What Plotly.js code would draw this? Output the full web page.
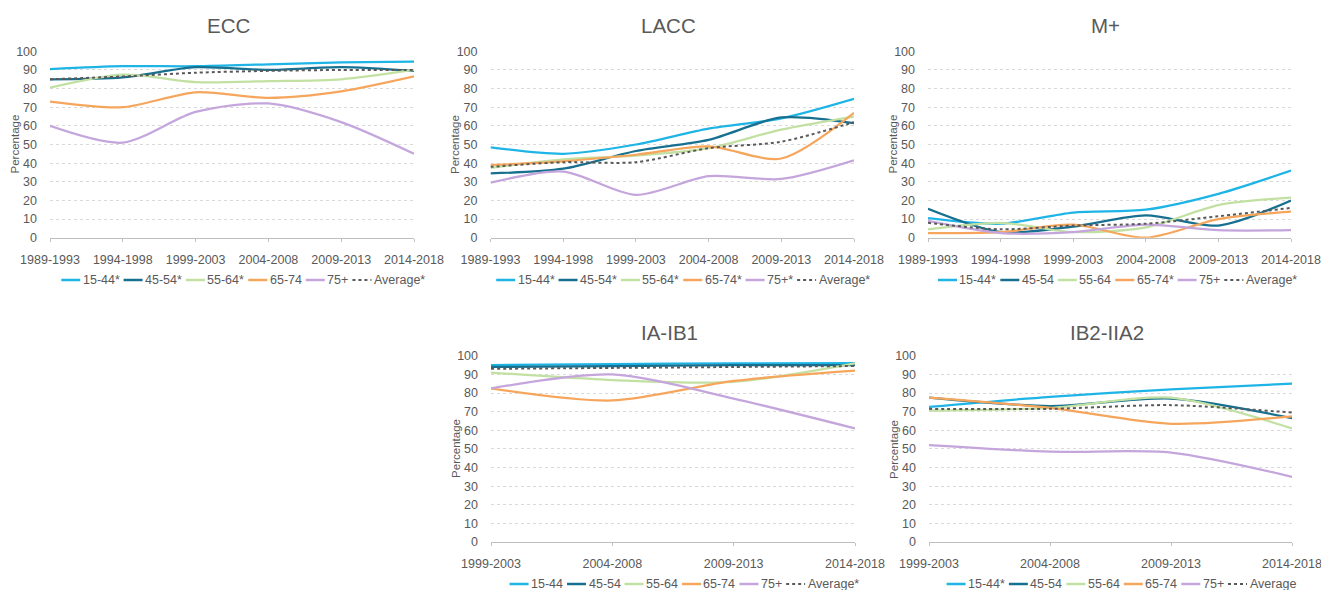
<!DOCTYPE html>
<html>
<head>
<meta charset="utf-8">
<script src="https://cdn.plot.ly/plotly-3.0.1.min.js"></script>
<style>html,body{margin:0;padding:0;background:#fff;}#chart{width:1321px;height:590px;}</style>
</head>
<body>
<div id="chart"></div>
<script>
// ---- data ----
const periodsLong = ["1989-1993", "1994-1998", "1999-2003", "2004-2008", "2009-2013", "2014-2018"];
const periodsShort = ["1999-2003", "2004-2008", "2009-2013", "2014-2018"];

// ECC
const eccNames = ["15-44*", "45-54*", "55-64*", "65-74", "75+", "Average*"];
const ecc1544 = [90.5, 92, 92, 93, 94, 94.5];
const ecc4554 = [85, 86, 91.5, 90, 91.5, 89.5];
const ecc5564 = [80.5, 87.5, 83.5, 84, 85, 90];
const ecc6574 = [73, 70, 78, 75, 78.5, 86.5];
const ecc75 = [60, 51, 67.5, 72, 62, 45];
const eccAvg = [85, 86.5, 88.5, 89.5, 90, 90];

// LACC
const laccNames = ["15-44*", "45-54*", "55-64*", "65-74*", "75+*", "Average*"];
const lacc1544 = [48.5, 45, 50, 58.5, 64, 74.5];
const lacc4554 = [34.5, 37, 46.5, 52.5, 64.5, 61.5];
const lacc5564 = [37.5, 42, 44, 48, 58, 65];
const lacc6574 = [39, 41, 44.5, 49, 42.5, 67];
const lacc75 = [29.5, 35.5, 23, 33, 31.5, 41.5];
const laccAvg = [38, 40.5, 40.5, 48, 51.5, 62];

// M+
const mNames = ["15-44*", "45-54", "55-64", "65-74*", "75+", "Average*"];
const m1544 = [10.5, 7.5, 13.5, 15, 23.5, 36];
const m4554 = [15.5, 3, 6, 12, 6.5, 20];
const m5564 = [4.5, 8, 3, 5.5, 17.5, 21.5];
const m6574 = [2.5, 3, 7, 0, 10, 14];
const m75 = [9, 2.5, 3, 7, 4, 4];
const mAvg = [8, 4.5, 6.5, 7.5, 11.5, 16];

// IA-IB1
const iaNames = ["15-44", "45-54", "55-64", "65-74", "75+", "Average*"];
const ia1544 = [95, 95.5, 96, 96];
const ia4554 = [94, 94.5, 95, 95];
const ia5564 = [91, 87, 86, 96];
const ia6574 = [82.5, 76, 86.5, 92];
const ia75 = [82.5, 90, 77, 61];
const iaAvg = [93, 93.5, 94, 94.5];

// IB2-IIA2
const ibNames = ["15-44*", "45-54", "55-64", "65-74", "75+", "Average"];
const ib1544 = [72.5, 78, 82, 85];
const ib4554 = [77.5, 73, 77, 66.5];
const ib5564 = [70.5, 72, 77.5, 61];
const ib6574 = [77.5, 72, 63.5, 67.5];
const ib75 = [52, 48.5, 48, 35];
const ibAvg = [71.5, 71.5, 73.5, 69.5];

const panelTitles = ["ECC", "LACC", "M+", "IA-IB1", "IB2-IIA2"];
const yTitle = "Percentage";

// ---- styles ----
const colors = ["#1fb4e6", "#17708f", "#c3e0a3", "#f6a65c", "#c4a5dc", "#595959"];
const W = 1321, H = 590;
const FONT = "Liberation Sans, Arial, sans-serif";
const GREY = "#595959";
const LEG_SIZE = 12.5;

const panels = [
  {names: eccNames, x: periodsLong, series: [ecc1544, ecc4554, ecc5564, ecc6574, ecc75, eccAvg]},
  {names: laccNames, x: periodsLong, series: [lacc1544, lacc4554, lacc5564, lacc6574, lacc75, laccAvg]},
  {names: mNames, x: periodsLong, series: [m1544, m4554, m5564, m6574, m75, mAvg]},
  {names: iaNames, x: periodsShort, series: [ia1544, ia4554, ia5564, ia6574, ia75, iaAvg]},
  {names: ibNames, x: periodsShort, series: [ib1544, ib4554, ib5564, ib6574, ib75, ibAvg]}
];

// pixel boxes [left, right, top, bottom]
const boxes = [
  [50, 414, 51.3, 237.7],
  [490.5, 854, 51.3, 237.7],
  [928, 1291, 51.3, 237.7],
  [491, 855, 355.8, 542],
  [929, 1292, 355.8, 542]
];
const legendCX = [242.7, 682.5, 1117, 683.7, 1120.7];
const legendCY = [280, 280, 280, 584, 584];
const titleY = [25.5, 25.5, 25.5, 332, 332];

// text measurement for the legend layout
const ctx = document.createElement("canvas").getContext("2d");
ctx.font = LEG_SIZE + "px 'Liberation Sans'";
const tw = s => ctx.measureText(s).width;

const traces = [];
const layout = {
  width: W, height: H,
  margin: {l: 0, r: 0, t: 0, b: 0},
  paper_bgcolor: "#ffffff", plot_bgcolor: "#ffffff",
  font: {family: FONT, color: GREY, size: 12},
  annotations: [], shapes: [],
  showlegend: false
};

panels.forEach((p, i) => {
  const k = i + 1;
  const xa = k === 1 ? "x" : "x" + k;
  const ya = k === 1 ? "y" : "y" + k;
  p.series.forEach((vals, j) => {
    traces.push({
      type: "scatter", mode: "lines",
      x: p.x, y: vals, name: p.names[j],
      xaxis: xa, yaxis: ya,
      line: {color: colors[j], width: j === 5 ? 2 : 2.25, shape: "spline", smoothing: 0.8, dash: j === 5 ? "dot" : "solid"},
      hoverinfo: "x+y+name"
    });
  });
  const b = boxes[i];
  const xKey = k === 1 ? "xaxis" : "xaxis" + k;
  const yKey = k === 1 ? "yaxis" : "yaxis" + k;
  layout[xKey] = {
    domain: [b[0] / W, b[1] / W],
    anchor: ya,
    type: "category",
    range: [0, p.x.length - 1],
    showgrid: false,
    showline: true, linecolor: "#bfbfbf", linewidth: 1,
    ticks: "outside", ticklen: 3, tickcolor: "#bfbfbf",
    ticklabelstandoff: 7,
    tickfont: {size: 12.5, color: GREY},
    automargin: false, fixedrange: true
  };
  layout[yKey] = {
    domain: [1 - b[3] / H, 1 - b[2] / H],
    anchor: xa,
    range: [0, 100], dtick: 10,
    showgrid: true, gridcolor: "#d9d9d9", griddash: "dot", gridwidth: 1,
    zeroline: false, showline: false,
    ticks: "", tickfont: {size: 12.5, color: GREY},
    ticklabelstandoff: 12,
    automargin: false, fixedrange: true
  };
  // y-axis title
  layout.annotations.push({
    text: yTitle, showarrow: false, textangle: -90,
    xref: "paper", yref: "paper",
    x: (b[0] - 35) / W, y: 1 - (b[2] + b[3]) / 2 / H,
    xanchor: "center", yanchor: "middle",
    font: {size: 11.5, color: GREY}
  });
  // panel title
  layout.annotations.push({
    text: panelTitles[i], showarrow: false,
    xref: "paper", yref: "paper",
    x: ((b[0] + b[1]) / 2 - 4) / W, y: 1 - titleY[i] / H,
    xanchor: "center", yanchor: "middle",
    font: {size: 20.5, color: GREY}
  });

  // legend row (line sample + label), laid out from measured label widths
  const LINE = 19, GAP1 = 1.5, GAP2 = 5;
  const widths = p.names.map(tw);
  const total = widths.reduce((a, w) => a + LINE + GAP1 + w + GAP2, 0) - GAP2;
  let xPos = legendCX[i] - total / 2;
  const yc = 1 - legendCY[i] / H;
  p.names.forEach((nm, j) => {
    layout.shapes.push({
      type: "line", xref: "paper", yref: "paper",
      x0: xPos / W, x1: (xPos + LINE) / W, y0: yc, y1: yc,
      line: {color: colors[j], width: j === 5 ? 2 : 2.5, dash: j === 5 ? "dot" : "solid"}
    });
    layout.annotations.push({
      text: nm, showarrow: false,
      xref: "paper", yref: "paper",
      x: (xPos + LINE + GAP1) / W, y: yc,
      xanchor: "left", yanchor: "middle",
      xshift: -1,
      font: {size: LEG_SIZE, color: GREY}
    });
    xPos += LINE + GAP1 + widths[j] + GAP2;
  });
});

Plotly.newPlot("chart", traces, layout, {displayModeBar: false, staticPlot: true});
</script>
</body>
</html>
